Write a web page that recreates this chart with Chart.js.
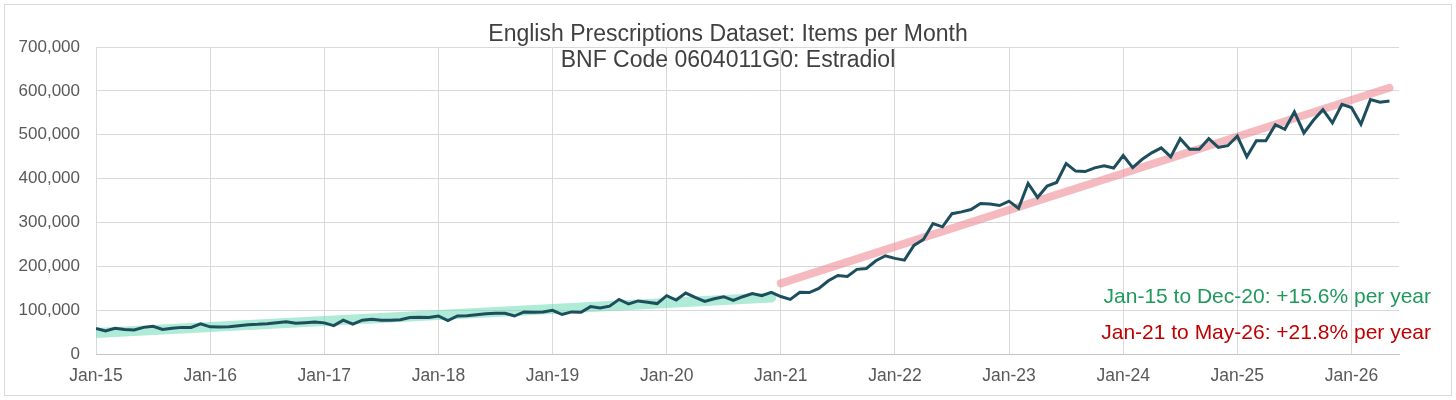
<!DOCTYPE html>
<html>
<head>
<meta charset="utf-8">
<title>Estradiol items per month</title>
<script src="https://cdn.jsdelivr.net/npm/chart.js@4.4.1/dist/chart.umd.min.js"></script>
<style>
  html, body { margin: 0; padding: 0; background: #fff; }
  #wrap { width: 1456px; height: 400px; }
</style>
</head>
<body>
<div id="wrap"><canvas id="items" width="1456" height="400"></canvas></div>
<script>
// items per month, Jan-15 .. May-26
var items2015 = [58500, 52400, 58500, 56000, 54700, 60700, 63000, 56000, 58500, 60700, 60700, 69000];
var items2016 = [62000, 61500, 62000, 64500, 66800, 67600, 69000, 71400, 73600, 70000, 71400, 72900];
var items2017 = [71000, 64600, 77000, 68000, 77000, 79000, 77000, 77000, 78000, 83000, 84000, 83000];
var items2018 = [86600, 76000, 86600, 87000, 89500, 91700, 93000, 93000, 86600, 96000, 95000, 96000];
var items2019 = [99500, 90000, 96000, 95000, 108000, 105000, 109000, 124500, 114000, 121000, 118000, 115000];
var items2020 = [133000, 123000, 139000, 129000, 120000, 126000, 130600, 122000, 130600, 138000, 133000, 140500];
var items2021 = [131000, 124500, 140500, 140000, 149600, 167000, 179000, 177000, 193000, 195000, 212600, 224000];
var items2022 = [218000, 214000, 247500, 261000, 297600, 290000, 320000, 324000, 329500, 343000, 342000, 338600];
var items2023 = [348500, 332000, 389000, 357000, 383000, 391000, 434000, 417000, 416000, 424500, 429000, 424000];
var items2024 = [452500, 425000, 444000, 458600, 470000, 449500, 491000, 467000, 467000, 491000, 471000, 475000];
var items2025 = [497000, 449500, 486000, 486000, 523000, 512500, 552000, 504000, 533000, 557000, 527000, 569500];
var items2026 = [562000, 524000, 580000, 574000, 577000];

var yearTicks = ['Jan-15', 'Jan-16', 'Jan-17', 'Jan-18', 'Jan-19', 'Jan-20',
                 'Jan-21', 'Jan-22', 'Jan-23', 'Jan-24', 'Jan-25', 'Jan-26'];
var yTicks = [0, 100000, 200000, 300000, 400000, 500000, 600000, 700000];

// trend lines, month index -> items
var trendEarlyX = [0, 71];
var trendEarlyY = [48000, 129000];
var trendLateX = [72, 136];
var trendLateY = [161000, 607000];

var titleLines = ['English Prescriptions Dataset: Items per Month', 'BNF Code 0604011G0: Estradiol'];
var notes = ['Jan-15 to Dec-20: +15.6% per year', 'Jan-21 to May-26: +21.8% per year'];

var items = [].concat(items2015, items2016, items2017, items2018, items2019, items2020,
                      items2021, items2022, items2023, items2024, items2025, items2026);

function points(xs, ys) {
  return ys.map(function (v, i) { return { x: xs[i], y: v }; });
}

var FONT = '"Liberation Sans", Arial, sans-serif';
Chart.defaults.font.family = FONT;

var decor = {
  id: 'decor',
  beforeDraw: function (chart) {
    var ctx = chart.ctx;
    ctx.save();
    ctx.fillStyle = '#fff';
    ctx.fillRect(0, 0, chart.width, chart.height);
    ctx.strokeStyle = '#d9d9d9';
    ctx.lineWidth = 1;
    ctx.strokeRect(4.5, 4.5, chart.width - 9, chart.height - 9);
    ctx.restore();
  },
  afterDraw: function (chart) {
    var ctx = chart.ctx, a = chart.chartArea;
    ctx.save();
    ctx.fillStyle = '#404040';
    ctx.font = '23px ' + FONT;
    ctx.textAlign = 'center';
    ctx.textBaseline = 'alphabetic';
    ctx.fillText(titleLines[0], chart.width / 2, 40.5);
    ctx.fillText(titleLines[1], chart.width / 2, 67);

    ctx.font = '21px ' + FONT;
    ctx.textAlign = 'right';
    ctx.fillStyle = '#1f9a5c';
    ctx.fillText(notes[0], a.right + 32, a.bottom - 51);
    ctx.fillStyle = '#c00000';
    ctx.fillText(notes[1], a.right + 32, a.bottom - 15);
    ctx.restore();
  }
};

var ctx = document.getElementById('items').getContext('2d');
var chart = new Chart(ctx, {
  type: 'line',
  data: {
    datasets: [{
      label: 'Items',
      data: points(items.map(function (v, i) { return i; }), items),
      borderColor: '#1d4e5d',
      borderWidth: 3,
      pointRadius: 0,
      tension: 0,
      order: 0
    }, {
      label: 'Trend Jan-15 to Dec-20',
      data: points(trendEarlyX, trendEarlyY),
      borderColor: 'rgba(110, 218, 180, 0.55)',
      borderWidth: 10,
      borderCapStyle: 'round',
      pointRadius: 0,
      order: 1
    }, {
      label: 'Trend Jan-21 to May-26',
      data: points(trendLateX, trendLateY),
      borderColor: 'rgba(238, 140, 150, 0.6)',
      borderWidth: 8,
      borderCapStyle: 'round',
      pointRadius: 0,
      order: 1
    }]
  },
  options: {
    responsive: false,
    animation: false,
    layout: { padding: { top: 47, right: 57, bottom: 0, left: 0 } },
    plugins: {
      legend: { display: false },
      tooltip: { enabled: false }
    },
    scales: {
      x: {
        type: 'linear',
        min: 0,
        max: 137,
        afterBuildTicks: function (s) {
          s.ticks = yearTicks.map(function (t, i) { return { value: i * 12 }; });
        },
        afterFit: function (s) { s.height = 46; },
        grid: { color: '#d9d9d9', drawTicks: false },
        border: { color: '#c4c4c4' },
        ticks: {
          padding: 12,
          color: '#595959',
          font: { size: 17.5 },
          maxRotation: 0,
          autoSkip: false,
          callback: function (v) { return yearTicks[Math.round(v / 12)]; }
        }
      },
      y: {
        min: 0,
        max: 700000,
        afterBuildTicks: function (s) {
          s.ticks = yTicks.map(function (v) { return { value: v }; });
        },
        afterFit: function (s) { s.width = 96; },
        grid: { color: '#d9d9d9', drawTicks: false },
        border: { display: false },
        ticks: {
          padding: 16,
          color: '#595959',
          font: { size: 17 },
          callback: function (v) { return v.toLocaleString('en-US'); }
        }
      }
    }
  },
  plugins: [decor]
});
</script>
</body>
</html>
